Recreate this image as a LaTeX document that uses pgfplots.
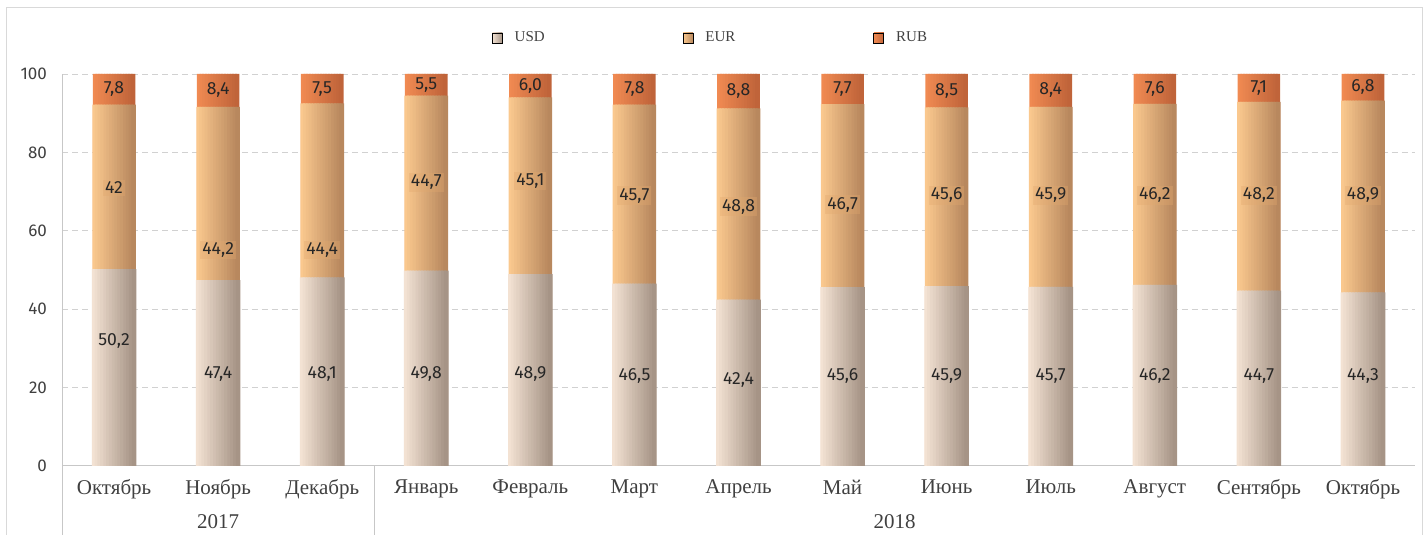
\documentclass[border=0pt]{standalone}
\usepackage{pgfplots}
\usepackage{pgfplotstable}
\usepackage{fontspec}
\pgfplotsset{compat=1.18}
\setmainfont{Liberation Serif}
\newfontfamily\fira{Fira Sans}
\definecolor{usdL}{RGB}{243,226,211}
\definecolor{usdR}{RGB}{166,148,134}
\definecolor{eurL}{RGB}{250,200,142}
\definecolor{eurR}{RGB}{184,136,94}
\definecolor{rubL}{RGB}{240,138,82}
\definecolor{rubR}{RGB}{192,100,58}
\definecolor{eurbox}{RGB}{225,168,110}
\definecolor{txt}{RGB}{64,64,64}
\pgfplotstableread{
x usd eur rub ul el rl uy ey ry
0 50.2 42.0 7.8 50,2 42 7,8 31.9 70.9 96.1
1 47.4 44.2 8.4 47,4 44,2 8,4 23.5 55.1 95.8
2 48.1 44.4 7.5 48,1 44,4 7,5 23.5 55.1 96.25
3 49.8 44.7 5.5 49,8 44,7 5,5 23.5 72.4 97.25
4 48.9 45.1 6.0 48,9 45,1 6,0 23.5 72.7 97.0
5 46.5 45.7 7.8 46,5 45,7 7,8 23.0 68.9 96.1
6 42.4 48.8 8.8 42,4 48,8 8,8 21.9 66.1 95.6
7 45.6 46.7 7.7 45,6 46,7 7,7 23.0 66.6 96.15
8 45.9 45.6 8.5 45,9 45,6 8,5 23.0 69.1 95.75
9 45.7 45.9 8.4 45,7 45,9 8,4 23.0 69.1 95.8
10 46.2 46.2 7.6 46,2 46,2 7,6 23.0 69.1 96.2
11 44.7 48.2 7.1 44,7 48,2 7,1 23.0 69.1 96.45
12 44.3 48.9 6.8 44,3 48,9 6,8 23.0 69.1 96.6
}\data
\pgfplotsset{base/.style={x=52.05pt, y=1.96pt, xmin=-0.5, xmax=12.5, ymin=0, ymax=100}}
\begin{document}
\begin{tikzpicture}
\begin{axis}[base,
  ybar, bar width=2.3pt,
  axis x line*=bottom, axis y line*=left,
  axis line style={-, draw=black!22},
  ymajorgrids, grid style={densely dashed, black!18},
  ytick={0,20,...,100},
  xtick={0,...,12},
  xticklabels={Октябрь,Ноябрь,Декабрь,Январь,Февраль,Март,Апрель,Май,Июнь,Июль,Август,Сентябрь,Октябрь},
  major tick length=0, tick style={draw=none},
  /pgf/number format/assume math mode=true,
  yticklabel style={font=\fira\fontsize{8.5}{10}\selectfont, text=txt, xshift=-4pt},
  xticklabel style={font=\fontsize{10.5}{12}\selectfont, text=txt, yshift=-3.5pt},
  clip=false,
  legend columns=3,
  legend style={at={(axis cs:5.74,109.2)}, anchor=center, draw=none, fill=none,
    font=\fontsize{7.5}{9}\selectfont, text=txt,
    /tikz/every odd column/.append style={column sep=4pt},
    /tikz/every even column/.append style={column sep=67pt}},
  legend image code/.code={\fill[#1] (0pt,-2.5pt) rectangle (5pt,2.5pt);},
]
\pgfplotsinvokeforeach{0,7,14,21,29,36,43,50,57,64,71,79,86,93,100}{
  \addplot[forget plot, draw=none, fill=rubR!#1!rubL, bar shift={(#1-50)*0.19pt}]
    table[x=x, y expr=\thisrow{usd}+\thisrow{eur}+\thisrow{rub}]\data;
}
\pgfplotsinvokeforeach{0,7,14,21,29,36,43,50,57,64,71,79,86,93,100}{
  \addplot[forget plot, draw=none, fill=eurR!#1!eurL, bar shift={(#1-50)*0.195pt}]
    table[x=x, y expr=\thisrow{usd}+\thisrow{eur}]\data;
}
\pgfplotsinvokeforeach{0,7,14,21,29,36,43,50,57,64,71,79,86,93,100}{
  \addplot[forget plot, draw=none, fill=usdR!#1!usdL, bar shift={(#1-50)*0.2pt}]
    table[x=x, y=usd]\data;
}
\addlegendimage{left color=usdL, right color=usdR}
\addlegendimage{left color=eurL, right color=eurR}
\addlegendimage{left color=rubL, right color=rubR}
\legend{USD,EUR,RUB}
\draw[black!22] (axis cs:-0.5,0) -- (axis cs:-0.5,-20);
\draw[black!22] (axis cs:2.5,0) -- (axis cs:2.5,-20);
\node[font=\fontsize{10.5}{12}\selectfont, text=txt] at (axis cs:1,-14.3) {2017};
\node[font=\fontsize{10.5}{12}\selectfont, text=txt] at (axis cs:7.5,-14.3) {2018};
\draw[black!15] (axis cs:-1.038,-30) rectangle (axis cs:12.567,117.09);
\coordinate (bl) at (axis cs:-1.096,-17.6);
\coordinate (tr) at (axis cs:12.625,118.88);
\end{axis}
\begin{axis}[base, hide axis, clip=false,
  nodes near coords, point meta=explicit symbolic,
  nodes near coords align=center,
  every node near coord/.append style={font=\fira\fontsize{8.8}{10}\selectfont, text=black!85, inner sep=1pt, anchor=center}]
\addplot[draw=none, mark=none] table[x=x,y=uy,meta=ul]\data;
\addplot[draw=none, mark=none, every node near coord/.append style={fill=eurbox, fill opacity=0.35, text opacity=1}] table[x=x,y=ey,meta=el]\data;
\addplot[draw=none, mark=none] table[x=x,y=ry,meta=rl]\data;
\end{axis}
\pgfresetboundingbox
\path (bl) rectangle (tr);
\end{tikzpicture}
\end{document}
